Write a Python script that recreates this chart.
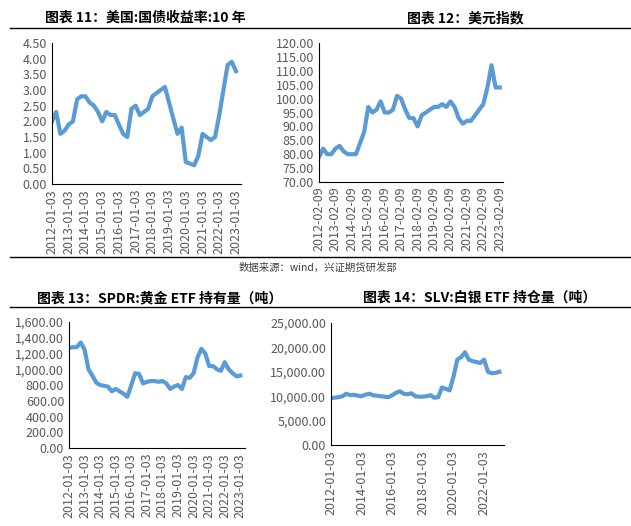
import numpy as np, pandas as pd, seaborn as sns, matplotlib
matplotlib.use("Agg")
import matplotlib.pyplot as plt
from matplotlib.lines import Line2D

plt.rcParams["font.family"] = ["Noto Sans CJK SC", "DejaVu Sans"]

# quarterly values from 2012Q1 to 2023Q1
yield10 = [2.0,2.3,1.6,1.7, 1.9,2.0,2.7,2.8, 2.8,2.6,2.5,2.3, 2.0,2.3,2.2,2.2,
           1.9,1.6,1.5,2.4, 2.5,2.2,2.3,2.4, 2.8,2.9,3.0,3.1, 2.6,2.1,1.6,1.8,
           0.7,0.65,0.6,0.9, 1.6,1.5,1.4,1.5, 2.2,3.0,3.8,3.9, 3.6]
dxy = [79,82,80,80, 82,83,81,80, 80,80,84,88, 97,95,96,99, 95,95,96,101,
       100,96,93,93, 90,94,95,96, 97,97,98,97, 99,97,93,91, 92,92,94,96,
       98,104,112,104, 104]
spdr = [1270,1280,1280,1340, 1250,1000,920,830, 800,790,780,720, 750,720,690,650,
        800,950,940,820, 840,850,850,840, 850,820,750,780, 800,750,900,890,
        950,1150,1260,1200, 1040,1040,1000,980, 1090,1000,950,910, 920]
slv = [9600,9700,9800,10000, 10500,10200,10300,10100, 10000,10300,10500,10200,
       10100,10000,9900,9800, 10200,10700,11000,10500, 10400,10600,10000,9900,
       9900,10000,10200,9700, 9800,11800,11500,11200, 14000,17500,18000,19000,
       17500,17200,17000,16800, 17500,15000,14700,14800, 15000]

titles = ["图表 11：美国:国债收益率:10 年", "图表 12：美元指数",
          "图表 13：SPDR:黄金 ETF 持有量（吨）", "图表 14：SLV:白银 ETF 持仓量（吨）"]
W, H = 631, 526
fig = plt.figure(figsize=(W/100, H/100), dpi=100)
def ax_at(l, r, t, b):
    return fig.add_axes([l/W, 1-b/H, (r-l)/W, (b-t)/H])

specs = [
    (yield10, (52,241,43,184), 2012.0, (0,4.5,0.5), "{:.2f}", list(range(2012,2024)), "-01-03"),
    (dxy, (319,503,43,182), 2012.1, (70,120,5), "{:.2f}", list(range(2012,2024)), "-02-09"),
    (spdr, (69,245,322,448), 2012.0, (0,1600,200), "{:,.2f}", list(range(2012,2024)), "-01-03"),
    (slv, (331,504,323,445), 2012.0, (0,25000,5000), "{:,.2f}", list(range(2012,2024,2)), "-01-03"),
]
for i, (vals, box, x0, (ymin,ymax,ystep), fmt, yrs, suf) in enumerate(specs):
    ax = ax_at(*box)
    df = pd.DataFrame({"t": x0 + np.arange(len(vals))*0.25, "v": vals})
    sns.lineplot(data=df, x="t", y="v", ax=ax, color="#5B9BD5", lw=3)
    ax.set_xlim(x0 if i != 1 else 2012.1, 2023.3)
    ax.set_ylim(ymin, ymax)
    yt = np.arange(ymin, ymax+ystep/2, ystep)
    ax.set_yticks(yt); ax.set_yticklabels([fmt.format(v) for v in yt])
    xt = [y + (0.1 if i == 1 else 0) for y in yrs]
    ax.set_xticks(xt); ax.set_xticklabels([f"{y}{suf}" for y in yrs], rotation=90)
    ax.tick_params(labelsize=9, colors="#595959", length=0)
    ax.set_xlabel(""); ax.set_ylabel("")
    for s in ["top","right"]: ax.spines[s].set_visible(False)
    for s in ["left","bottom"]: ax.spines[s].set_color("black")

def txt(x, y, s, **kw):
    fig.text(x/W, 1-y/H, s, ha="center", va="center", **kw)
txt(145, 18, titles[0], fontsize=10, fontweight="bold")
txt(465, 18, titles[1], fontsize=10, fontweight="bold")
txt(160, 298, titles[2], fontsize=10, fontweight="bold")
txt(480, 298, titles[3], fontsize=10, fontweight="bold")
txt(318, 268, "数据来源：wind，兴证期货研发部", fontsize=7.5, color="#404040")
for y in (28, 257, 307):
    fig.add_artist(Line2D([10/W, 1], [1-y/H]*2, color="black", lw=1))
fig.savefig("out.png", dpi=100)
